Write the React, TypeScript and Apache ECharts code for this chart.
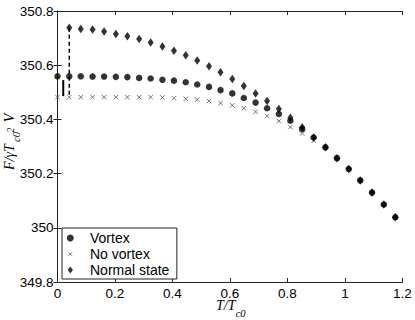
import React, { useEffect, useRef } from "react";
import * as echarts from "echarts";

// T / Tc0 sample temperatures
const temperature = [
  0, 0.041, 0.081, 0.122, 0.162, 0.203, 0.243, 0.284, 0.324, 0.365,
  0.405, 0.446, 0.486, 0.527, 0.567, 0.608, 0.648, 0.689, 0.729, 0.77,
  0.81, 0.851, 0.891, 0.932, 0.972, 1.013, 1.053, 1.094, 1.135, 1.175,
];

const vortex = [
  350.559, 350.559, 350.559, 350.558, 350.558, 350.557, 350.556, 350.553, 350.551, 350.546,
  350.543, 350.537, 350.529, 350.52, 350.508, 350.496, 350.479, 350.462, 350.441, 350.42,
  350.395, 350.364, 350.333, 350.297, 350.257, 350.217, 350.175, 350.13, 350.086, 350.039,
];

const noVortex = [
  350.482, 350.482, 350.482, 350.482, 350.482, 350.482, 350.482, 350.482, 350.482, 350.481,
  350.478, 350.476, 350.473, 350.468, 350.46, 350.452, 350.441, 350.428, 350.412, 350.394,
  350.372, 350.348, 350.321, 350.297, 350.257, 350.217, 350.175, 350.13, 350.086, 350.039,
];

const normalState = [
  null, 350.738, 350.734, 350.732, 350.724, 350.715, 350.707, 350.697, 350.684, 350.669,
  350.653, 350.637, 350.617, 350.596, 350.574, 350.549, 350.523, 350.496, 350.468, 350.438,
  350.406, 350.371, 350.333, 350.297, 350.257, 350.217, 350.175, 350.13, 350.086, 350.039,
];

// vertical marks near T = 0
const solidMarkT = [0.02, 0.02];
const solidMarkF = [350.545, 350.486];
const dashedMarkT = [temperature[1], temperature[1]];
const dashedMarkF = [normalState[1] as number, noVortex[1]];

const xRange = [0, 1.2, 0.2];
const yRange = [349.8, 350.8, 0.2];

const seriesNames = ["Vortex", "No vortex", "Normal state"];

const pairs = (ys: (number | null)[]) =>
  ys
    .map((y, i) => [temperature[i], y])
    .filter((p) => p[1] !== null) as number[][];

const xMark = "path://M0,0L10,10M10,0L0,10";
const xMarkLegend =
  "path://M0,0L0.01,0.01M2.5,2.5L7.5,7.5M7.5,2.5L2.5,7.5M9.99,9.99L10,10";
const diamondLegend = "path://M3,0L6,4L3,8L0,4Z";

const tickFont = { fontFamily: "Liberation Sans", fontSize: 13.5, color: "#000" };
const fmt = (v: number) => String(Math.round(v * 10) / 10);

const serif = (text: string, size: number) => ({
  text,
  fontFamily: "Liberation Serif",
  fontStyle: "italic",
  fontSize: size,
  fill: "#000",
  align: "center",
  verticalAlign: "middle",
  textAlign: "center",
  textVerticalAlign: "middle",
});

export default function App() {
  const ref = useRef<HTMLDivElement>(null);
  useEffect(() => {
    if (!ref.current) return;
    const chart = echarts.init(ref.current, null, { renderer: "svg" });
    const axisLine = { show: true, lineStyle: { color: "#222", width: 1 } };
    const tick = { show: true, inside: true, length: 4, lineStyle: { color: "#222" } };
    chart.setOption({
      animation: false,
      backgroundColor: "#fff",
      grid: { left: 57.5, top: 11, width: 345, height: 271, containLabel: false },
      xAxis: [
        {
          type: "value", min: xRange[0], max: xRange[1], interval: xRange[2],
          axisLine, axisTick: tick, splitLine: { show: false },
          axisLabel: { ...tickFont, margin: 4, formatter: fmt },
        },
        {
          type: "value", position: "top", min: xRange[0], max: xRange[1], interval: xRange[2],
          axisLine, axisTick: tick, splitLine: { show: false }, axisLabel: { show: false },
        },
      ],
      yAxis: [
        {
          type: "value", min: yRange[0], max: yRange[1], interval: yRange[2],
          axisLine, axisTick: tick, splitLine: { show: false },
          axisLabel: { ...tickFont, margin: 4, formatter: fmt },
        },
        {
          type: "value", position: "right", min: yRange[0], max: yRange[1], interval: yRange[2],
          axisLine, axisTick: tick, splitLine: { show: false }, axisLabel: { show: false },
        },
      ],
      legend: {
        orient: "vertical",
        left: 62,
        top: 228,
        padding: [3, 7.5, 2, 4.3],
        itemGap: 2,
        itemWidth: 29.4,
        itemHeight: 7,
        backgroundColor: "#fff",
        borderColor: "#222",
        borderWidth: 1,
        borderRadius: 0,
        selectedMode: false,
        textStyle: { fontFamily: "Liberation Sans", fontSize: 14, color: "#000" },
        data: [
          { name: seriesNames[0], icon: "circle" },
          {
            name: seriesNames[1],
            icon: xMarkLegend,
            itemStyle: { color: "transparent", borderColor: "#555", borderWidth: 1 },
          },
          { name: seriesNames[2], icon: diamondLegend },
        ],
      },
      series: [
        {
          type: "line", data: solidMarkT.map((t, i) => [t, solidMarkF[i]]),
          symbol: "none", silent: true, lineStyle: { color: "#000", width: 2 }, z: 2,
        },
        {
          type: "line", data: dashedMarkT.map((t, i) => [t, dashedMarkF[i]]),
          symbol: "none", silent: true, lineStyle: { color: "#000", width: 1.5, type: [4, 3] }, z: 2,
        },
        {
          name: seriesNames[0], type: "scatter", data: pairs(vortex),
          symbol: "circle", symbolSize: 6.5, itemStyle: { color: "#000" }, z: 3,
        },
        {
          name: seriesNames[1], type: "scatter", data: pairs(noVortex),
          symbol: xMark, symbolSize: 4.5,
          itemStyle: { color: "transparent", borderColor: "#555", borderWidth: 1 }, z: 4,
        },
        {
          name: seriesNames[2], type: "scatter", data: pairs(normalState),
          symbol: "diamond", symbolSize: [6, 8.5], itemStyle: { color: "#000" }, z: 5,
        },
      ],
      graphic: [
        { type: "text", x: 216, y: 305, style: { ...serif("T/T", 14), align: "left", textAlign: "left" } },
        { type: "text", x: 235.5, y: 313, style: { ...serif("c0", 10.5), align: "left", textAlign: "left" } },
        { type: "text", x: 9, y: 157, rotation: Math.PI / 2, style: serif("F/γT", 14) },
        { type: "text", x: 16, y: 137, rotation: Math.PI / 2, style: serif("c0", 10.5) },
        { type: "text", x: 11, y: 130, rotation: Math.PI / 2, style: serif("2", 9.5) },
        { type: "text", x: 9, y: 118, rotation: Math.PI / 2, style: serif("V", 14) },
      ],
    });
    return () => chart.dispose();
  }, []);
  return (
    <div
      ref={ref}
      style={{ position: "fixed", left: 0, top: 0, width: 415, height: 320 }}
    />
  );
}
